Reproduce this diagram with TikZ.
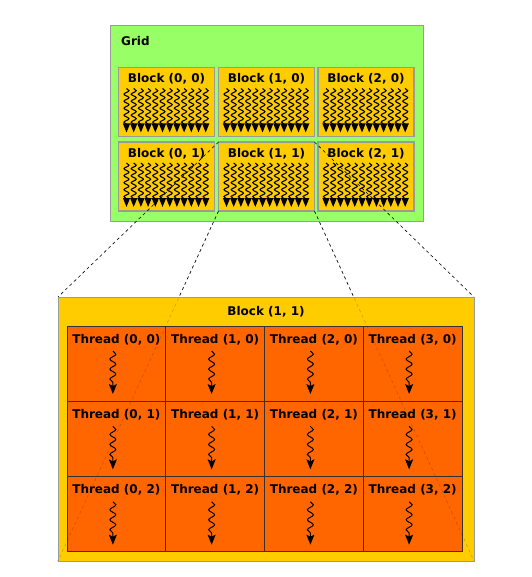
\documentclass[tikz,border=0pt]{standalone}
\usepackage{fontspec}
\setmainfont{DejaVu Sans}
\usetikzlibrary{arrows.meta, positioning, decorations.pathmorphing}

\definecolor{gridgreen}{HTML}{99FF66}
\definecolor{blockyellow}{HTML}{FFCC00}
\definecolor{threadorange}{HTML}{FF6600}
\definecolor{framegray}{HTML}{9A9A9A}

\tikzset{
  gridbox/.style={draw=framegray, fill=gridgreen, line width=1pt, inner sep=0pt, outer sep=0pt, minimum width=313pt, minimum height=195pt},
  blockbox/.style={draw=framegray, fill=blockyellow, line width=1.2pt, inner sep=0pt, outer sep=0pt, minimum width=96pt, minimum height=69pt},
  bigblock/.style={draw=framegray, fill=blockyellow, line width=0.8pt, inner sep=0pt, outer sep=0pt, minimum width=416pt, minimum height=264pt},
  threadcell/.style={draw=black!80, fill=threadorange, line width=1pt, inner sep=0pt, outer sep=0pt, minimum width=98.75pt, minimum height=75.33pt},
  lbl/.style={font=\fontsize{12}{13}\selectfont\bfseries, inner sep=0pt},
  smallwarp/.style={decorate, decoration={snake, amplitude=2.5pt, segment length=7pt, post length=8pt}, -{Triangle[width=7pt, length=9pt]}, line width=1.1pt},
  bigwarp/.style={decorate, decoration={snake, amplitude=3pt, segment length=10pt, post length=9pt}, -{Stealth[width=8pt, length=10pt, inset=2pt]}, line width=1pt},
  zoomline/.style={dashed, dash pattern=on 3pt off 3pt, line width=0.6pt}
}

\begin{document}
\begin{tikzpicture}[x=1pt, y=-1pt]
    \useasboundingbox (0,0) rectangle (531,577);

    % Grid
    \node[gridbox] (grid) at (266.5,123.5) {};
    \node[lbl, anchor=west] (gridlbl) at (121,41) {Grid};

    % Blocks of the grid
    \foreach \i/\cx in {0/166.5, 1/266.5, 2/366} {
      \foreach \j/\cy in {0/102, 1/176.5} {
        \node[blockbox] (blk-\i-\j) at (\cx,\cy) {};
        \node[lbl, below=6pt of blk-\i-\j.north] (blklbl-\i-\j) {Block (\i, \j)};
        \foreach \k in {0,...,11} {
          \coordinate (ws-\i-\j-\k) at ([xshift=8pt+\k*7.2pt, yshift=-21pt]blk-\i-\j.north west);
          \coordinate (we-\i-\j-\k) at ([xshift=8pt+\k*7.2pt, yshift=-65pt]blk-\i-\j.north west);
          \draw[smallwarp] (ws-\i-\j-\k) -- (we-\i-\j-\k);
        }
      }
    }

    % Zoom lines
    \draw[zoomline] (blk-1-1.north west) -- (58,297) coordinate (bb-nw);
    \draw[zoomline] (blk-1-1.north east) -- (474,297) coordinate (bb-ne);
    \draw[zoomline] (blk-1-1.south west) -- (58,561) coordinate (bb-sw);
    \draw[zoomline] (blk-1-1.south east) -- (474,561) coordinate (bb-se);

    % Block (1, 1) enlarged
    \node[bigblock] (big) at (266,429) {};
    \node[lbl] (biglbl) at (266,312) {Block (1, 1)};

    % Threads
    \foreach \i in {0,...,3} {
      \foreach \j in {0,...,2} {
        \pgfmathsetmacro{\tx}{67+98.75*(\i+0.5)}
        \pgfmathsetmacro{\ty}{326+75.33*(\j+0.5)}
        \node[threadcell] (thr-\i-\j) at (\tx,\ty) {};
        \node[lbl, below=8pt of thr-\i-\j.north] (thrlbl-\i-\j) {Thread (\i, \j)};
        \coordinate (ts-\i-\j) at ([xshift=-3.5pt, yshift=-25pt]thr-\i-\j.north);
        \coordinate (te-\i-\j) at ([xshift=-3.5pt, yshift=-68pt]thr-\i-\j.north);
        \draw[bigwarp] (ts-\i-\j) -- (te-\i-\j);
      }
    }

    % faint parts of the zoom lines
    \draw[zoomline, black, opacity=0.2] (blk-1-1.south west) -- (bb-sw);
    \draw[zoomline, black, opacity=0.2] (blk-1-1.south east) -- (bb-se);
\end{tikzpicture}
\end{document}
